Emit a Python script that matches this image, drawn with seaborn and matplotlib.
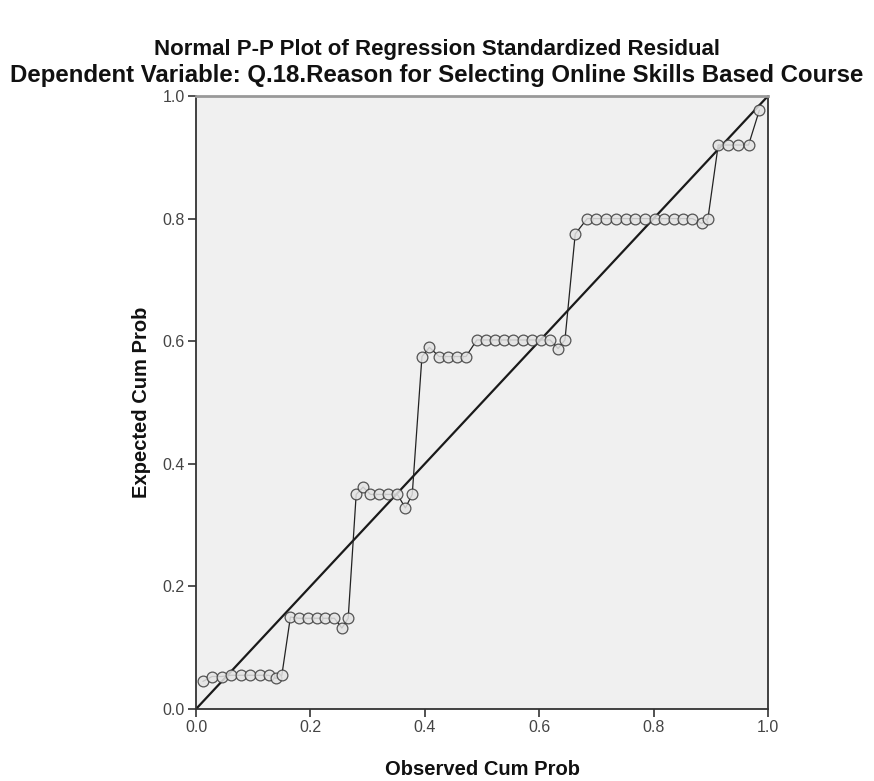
#!/usr/bin/env python3
"""Normal P-P plot of regression standardized residuals (SPSS style)."""

import pandas as pd
import matplotlib
matplotlib.use("Agg")
import matplotlib.pyplot as plt
import seaborn as sns

# Observed cumulative probability (x) and expected cumulative probability (y)
observed = [0.012, 0.028, 0.045, 0.061, 0.078, 0.094, 0.111, 0.127, 0.140, 0.150,
            0.165, 0.180, 0.196, 0.211, 0.226, 0.242, 0.255, 0.266,
            0.280, 0.292, 0.305, 0.320, 0.336, 0.352, 0.366, 0.378,
            0.395, 0.408, 0.425, 0.440, 0.456, 0.472,
            0.491, 0.507, 0.523, 0.539, 0.555, 0.571, 0.587, 0.603, 0.619, 0.633, 0.645,
            0.663,
            0.684, 0.700, 0.717, 0.734, 0.751, 0.768, 0.785, 0.802, 0.819, 0.836,
            0.852, 0.868, 0.884, 0.895,
            0.913, 0.930, 0.947, 0.966,
            0.985]
expected = [0.045, 0.053, 0.053, 0.055, 0.055, 0.055, 0.055, 0.055, 0.050, 0.055,
            0.150, 0.148, 0.148, 0.148, 0.148, 0.148, 0.132, 0.148,
            0.350, 0.362, 0.350, 0.350, 0.350, 0.350, 0.328, 0.350,
            0.575, 0.590, 0.575, 0.575, 0.575, 0.575,
            0.602, 0.602, 0.602, 0.602, 0.602, 0.602, 0.602, 0.602, 0.602, 0.588, 0.602,
            0.775,
            0.800, 0.800, 0.800, 0.800, 0.800, 0.800, 0.800, 0.800, 0.800, 0.800,
            0.800, 0.800, 0.792, 0.800,
            0.920, 0.920, 0.920, 0.920,
            0.977]
ticks = [0.0, 0.2, 0.4, 0.6, 0.8, 1.0]

TITLE = "Normal P-P Plot of Regression Standardized Residual"
SUBTITLE = "Dependent Variable: Q.18.Reason for Selecting Online Skills Based Course"

sns.set_style("ticks")
plt.rcParams['font.family'] = ['Liberation Sans', 'DejaVu Sans']


def main():
    df = pd.DataFrame({"Observed": observed, "Expected": expected})

    fig = plt.figure(figsize=(8.74, 7.81), dpi=100)
    ax = fig.add_axes([0.2243, 0.0922, 0.6544, 0.7849])
    ax.set_facecolor("#f0f0f0")

    # Reference diagonal
    sns.lineplot(x=ticks, y=ticks, ax=ax, color="#1a1a1a", linewidth=1.6)
    # Interpolation line and points
    sns.lineplot(data=df, x="Observed", y="Expected", ax=ax, sort=False,
                 color="#222222", linewidth=0.9)
    sns.scatterplot(data=df, x="Observed", y="Expected", ax=ax, s=60,
                    facecolor="#e4e4e4", edgecolor="#3a3a3a", linewidth=0.9,
                    alpha=0.85, zorder=3)

    ax.set(xlim=(0, 1), ylim=(0, 1), xticks=ticks, yticks=ticks)
    ax.set_xticklabels([f"{t:.1f}" for t in ticks])
    ax.set_yticklabels([f"{t:.1f}" for t in ticks])
    ax.tick_params(direction="out", length=6, width=1.2, color="#333333",
                   labelsize=11.5, labelcolor="#444444", pad=2)
    for side in ["left", "bottom", "right"]:
        ax.spines[side].set_color("#333333")
        ax.spines[side].set_linewidth(1.3)
    ax.spines["top"].set_color("#999999")
    ax.spines["top"].set_linewidth(2.0)

    ax.set_xlabel("Observed Cum Prob", fontsize=14.5, fontweight="bold",
                  labelpad=18, color="#111111")
    ax.set_ylabel("Expected Cum Prob", fontsize=14.5, fontweight="bold",
                  labelpad=8, color="#111111")

    fig.text(0.5, 0.937, TITLE, ha="center", va="center", fontsize=16,
             fontweight="bold", color="#111111")
    fig.text(0.5, 0.903, SUBTITLE, ha="center", va="center", fontsize=17.3,
             fontweight="bold", color="#111111")

    fig.savefig("out.png", dpi=100, facecolor="white")


if __name__ == '__main__':
    main()
